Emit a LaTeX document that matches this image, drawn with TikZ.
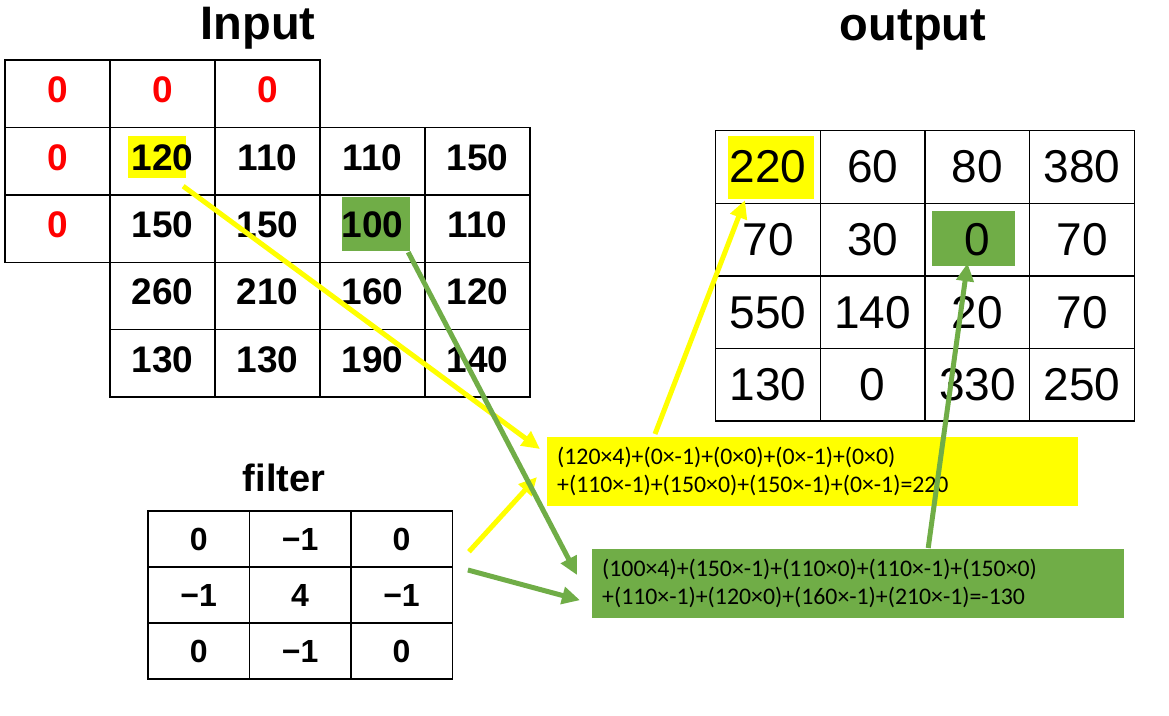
\documentclass[tikz,border=0pt]{standalone}
\usepackage{fontspec}
\setmainfont{Liberation Sans}
\newfontfamily\sumfont{Carlito}
\usepackage{xcolor}
\definecolor{hiyellow}{rgb}{1.0, 1.0, 0.0}
\definecolor{higreen}{rgb}{0.44, 0.68, 0.28}
\definecolor{zerored}{rgb}{1.0, 0.0, 0.0}
\usepackage{tikz}
\usetikzlibrary{calc}
\usetikzlibrary{arrows.meta, positioning}

\begin{document}
\begin{tikzpicture}[x=1pt, y=-1pt, >=Triangle]
	\useasboundingbox (0,0) rectangle (1169,715);
	% ------------------------------------------------------------------
	% STYLE DEFINITIONS
	% ------------------------------------------------------------------
	\tikzset{
		incell/.style  = {draw, line width=1.4pt, minimum width=105pt, minimum height=67.5pt, inner sep=0pt, text depth=8pt, font=\bfseries\fontsize{37}{40}\selectfont},
		outcell/.style = {draw, line width=1.4pt, minimum width=104.7pt, minimum height=72.6pt, inner sep=0pt, font=\fontsize{46}{50}\selectfont},
		fcell/.style   = {draw, line width=1.4pt, minimum width=101.4pt, minimum height=56pt, inner sep=0pt, font=\bfseries\fontsize{32}{36}\selectfont},
		title/.style   = {font=\bfseries\fontsize{47}{50}\selectfont},
		hibox/.style   = {inner sep=0pt},
		sumbox/.style  = {anchor=north west, inner xsep=10pt, align=left, font=\sumfont\fontsize{23.8}{28}\selectfont},
		yarrow/.style  = {line width=5pt, hiyellow, -{Triangle[length=18pt, width=17pt]}},
		garrow/.style  = {line width=5pt, higreen, -{Triangle[length=18pt, width=17pt]}},
	}
	
	% ------------------------------------------------------------------
	% TITLES
	% ------------------------------------------------------------------
	\node[title] (tin)  at (258,28) {Input};
	\node[title] (tout) at (913,30) {output};
	\node[title, font=\bfseries\fontsize{38}{40}\selectfont] (tfil) at (284,478) {filter};
	
	% ------------------------------------------------------------------
	% HIGHLIGHTS
	% ------------------------------------------------------------------
	\node[hibox, fill=hiyellow, minimum width=58pt, minimum height=42pt] (hiY) at (157,157) {};
	\node[hibox, fill=higreen, minimum width=68pt, minimum height=54pt] (hiG) at (376,224) {};
	\node[hibox, fill=hiyellow, minimum width=86pt, minimum height=63pt] (outY) at (771,167.5) {};
	\node[hibox, fill=higreen, minimum width=83pt, minimum height=55pt] (outG) at (973.5,238.5) {};
	
	% ------------------------------------------------------------------
	% INPUT (zero padded)
	% ------------------------------------------------------------------
	\foreach \v [count=\c from 0] in {0,0,0}
		\node[incell, text=zerored] (in-0-\c) at ({57.5+105*\c},93.75) {\v};
	\foreach \r in {1,2}
		\node[incell, text=zerored] (in-\r-0) at (57.5,{93.75+67.4*\r}) {0};
	\foreach \v [count=\c] in {120,110,110,150}
		\node[incell] (in-1-\c) at ({57.5+105*\c},161.15) {\v};
	\foreach \v [count=\c] in {150,150,100,110}
		\node[incell] (in-2-\c) at ({57.5+105*\c},228.55) {\v};
	\foreach \v [count=\c] in {260,210,160,120}
		\node[incell] (in-3-\c) at ({57.5+105*\c},295.95) {\v};
	\foreach \v [count=\c] in {130,130,190,140}
		\node[incell] (in-4-\c) at ({57.5+105*\c},363.35) {\v};
	
	% ------------------------------------------------------------------
	% OUTPUT
	% ------------------------------------------------------------------
	\foreach \row [count=\r from 0] in {{220,60,80,380},{70,30,0,70},{550,140,20,70},{130,0,330,250}}
		\foreach \v [count=\c from 0] in \row
			\node[outcell] (out-\r-\c) at ({768+104.7*\c},{167+72.6*\r}) {\v};
	
	% ------------------------------------------------------------------
	% FILTER
	% ------------------------------------------------------------------
	\foreach \row [count=\r] in {{0,−1,0},{−1,4,−1},{0,−1,0}}
		\foreach \v [count=\c] in \row
			\node[fcell] (f-\r-\c) at ({97.3+101.4*\c},{483+56*\r}) {\v};
	
	% ------------------------------------------------------------------
	% SUMS
	% ------------------------------------------------------------------
	\node[sumbox, fill=hiyellow, minimum width=531pt, minimum height=69pt, text width=511pt] (sumY) at (547,437)
		{(120×4)+(0×-1)+(0×0)+(0×-1)+(0×0)\\+(110×-1)+(150×0)+(150×-1)+(0×-1)=220};
	\node[sumbox, fill=higreen, minimum width=532pt, minimum height=69pt, text width=512pt] (sumG) at (592,549)
		{(100×4)+(150×-1)+(110×0)+(110×-1)+(150×0)\\+(110×-1)+(120×0)+(160×-1)+(210×-1)=-130};
	
	% ------------------------------------------------------------------
	% ARROWS
	% ------------------------------------------------------------------
	\draw[yarrow] ([shift={(-3,8)}]hiY.south east) -- ([shift={(-7,12)}]sumY.north west);
	\draw[yarrow] ([shift={(16,-16)}]f-1-3.south east) -- ([shift={(-10,40)}]sumY.north west);
	\draw[yarrow] ([shift={(108,-3)}]sumY.north west) -- ([shift={(-26,1)}]outY.south);
	\draw[garrow] ([shift={(-2,1)}]hiG.south east) -- ([shift={(-15,26)}]sumG.north west);
	\draw[garrow] ([shift={(15,-25)}]f-2-3.east) -- ([shift={(-12,16.5)}]sumG.west);
	\draw[garrow] ([shift={(70,-1)}]sumG.north) -- ([shift={(-6,-3)}]outG.south);
	
\end{tikzpicture}
\end{document}
